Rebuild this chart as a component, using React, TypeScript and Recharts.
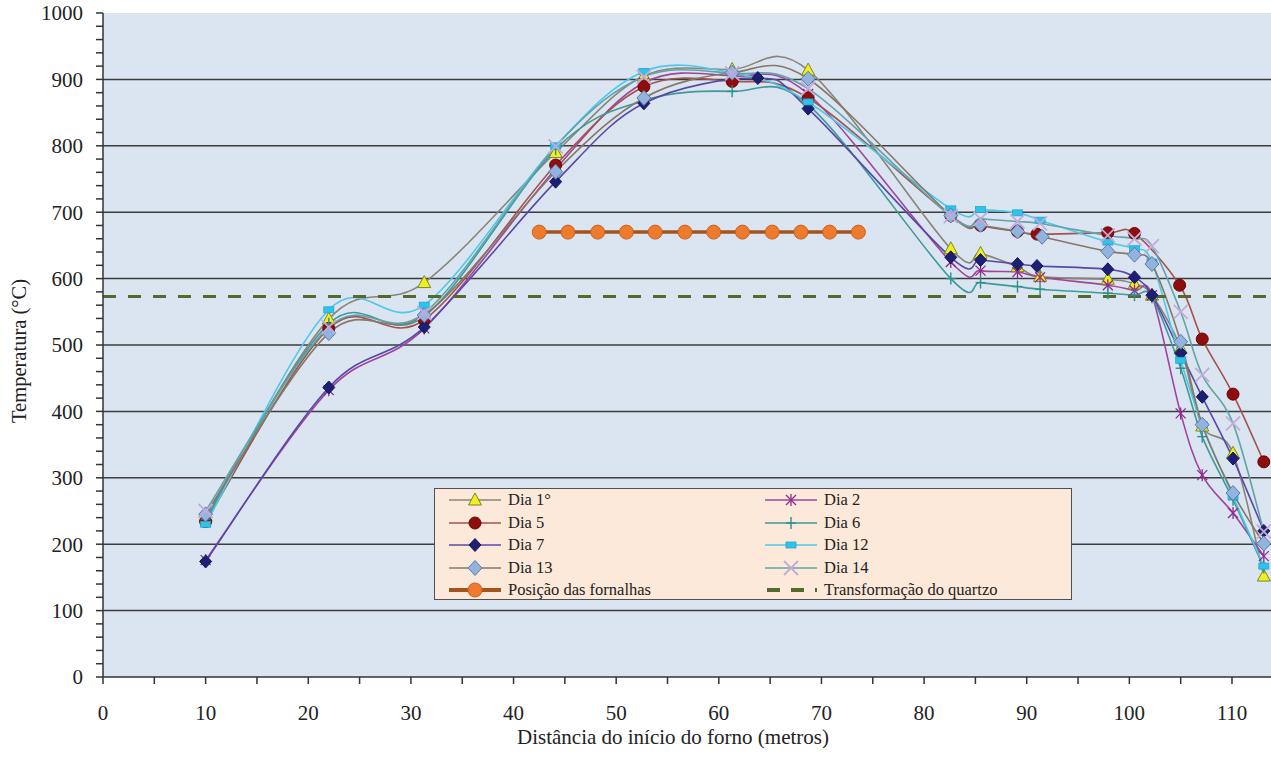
import React from "react";
import { LineChart, Line, XAxis, YAxis, CartesianGrid, Legend } from "recharts";

// ---------- data ----------
const xStd = [10, 22, 31.3, 44.1, 52.7, 61.3, 68.7, 82.6, 85.5, 89.1, 91.3, 97.9, 100.5, 102.2, 105, 107.1, 110.1, 113.1];

const dia1Y = [242, 539, 594, 790, 905, 915, 914, 645, 638, 618, 603, 599, 592, 575, 495, 378, 337, 152];
const dia2Y = [176, 432, 525, 765, 895, 905, 878, 625, 612, 610, 602, 590, 582, 575, 397, 304, 247, 182];

const dia5X = [10, 22, 31.3, 44.1, 52.7, 61.3, 68.7, 82.6, 85.5, 89.1, 91.0, 97.9, 100.5, 104.9, 107.1, 110.1, 113.1];
const dia5Y = [234, 525, 538, 771, 889, 897, 872, 695, 680, 671, 667, 669, 668, 590, 509, 426, 324];

const dia6Y = [238, 532, 543, 795, 868, 882, 862, 600, 594, 588, 584, 578, 575, 572, 465, 362, 267, 165];

const dia7X = [10, 22, 31.3, 44.1, 52.7, 63.8, 68.7, 82.6, 85.5, 89.1, 91.0, 97.9, 100.5, 102.2, 105, 107.1, 110.1, 113.1];
const dia7Y = [174, 436, 527, 746, 864, 902, 856, 632, 628, 622, 619, 614, 602, 575, 488, 422, 329, 220];

const dia12Y = [230, 553, 560, 800, 912, 910, 866, 705, 704, 699, 688, 655, 645, 625, 477, 380, 272, 167];

const dia13X = [10, 22, 31.3, 44.1, 52.7, 61.3, 68.7, 82.6, 85.5, 89.1, 91.5, 97.9, 100.5, 102.2, 105, 107.1, 110.1, 113.1];
const dia13Y = [245, 518, 545, 761, 872, 910, 901, 695, 681, 671, 663, 641, 636, 622, 505, 380, 277, 201];

const dia14Y = [250, 527, 548, 799, 904, 909, 886, 694, 690, 686, 683, 665, 660, 649, 550, 455, 382, 219];

const fornX = [42.5, 45.3, 48.2, 51.0, 53.8, 56.7, 59.5, 62.3, 65.2, 68.0, 70.8, 73.6];
const fornY = [670, 670, 670, 670, 670, 670, 670, 670, 670, 670, 670, 670];

const quartzX = [0, 113.8];
const quartzY = [573, 573];

const xTicks = [0, 5, 10, 15, 20, 25, 30, 35, 40, 45, 50, 55, 60, 65, 70, 75, 80, 85, 90, 95, 100, 105, 110];
const yTicks = Array.from({ length: 51 }, (_, i) => i * 20);
const yGrid = [100, 200, 300, 400, 500, 600, 700, 800, 900];

const zip = (xs: number[], ys: number[]) => xs.map((x, i) => ({ x, y: ys[i] }));

// ---------- Excel-like smoothing curve ----------
const excelCurve: any = (context: any) => {
  let pts: number[][] = [];
  return {
    areaStart() {},
    areaEnd() {},
    lineStart() {
      pts = [];
    },
    point(x: number, y: number) {
      pts.push([+x, +y]);
    },
    lineEnd() {
      const n = pts.length;
      if (!n) return;
      context.moveTo(pts[0][0], pts[0][1]);
      for (let i = 0; i < n - 1; i++) {
        const p0 = pts[Math.max(i - 1, 0)];
        const p1 = pts[i];
        const p2 = pts[i + 1];
        const p3 = pts[Math.min(i + 2, n - 1)];
        context.bezierCurveTo(
          p1[0] + (p2[0] - p0[0]) / 6,
          p1[1] + (p2[1] - p0[1]) / 6,
          p2[0] - (p3[0] - p1[0]) / 6,
          p2[1] - (p3[1] - p1[1]) / 6,
          p2[0],
          p2[1]
        );
      }
    },
  };
};

// ---------- markers ----------
type Kind = "triangle" | "circle" | "diamondDark" | "diamondLight" | "star" | "plus" | "rect" | "x" | "orange" | "none";

function MarkerShape({ kind, cx, cy }: { kind: Kind; cx: number; cy: number }) {
  switch (kind) {
    case "triangle":
      return <polygon points={`${cx},${cy - 7} ${cx - 6.5},${cy + 5} ${cx + 6.5},${cy + 5}`} fill="#f4ee1e" stroke="#6f8a2c" strokeWidth={1} />;
    case "circle":
      return <circle cx={cx} cy={cy} r={6} fill="#8e0d0d" stroke="#6a0808" strokeWidth={1} />;
    case "diamondDark":
      return <polygon points={`${cx},${cy - 6.5} ${cx + 6},${cy} ${cx},${cy + 6.5} ${cx - 6},${cy}`} fill="#1d1f72" stroke="#14165a" strokeWidth={1} />;
    case "diamondLight":
      return <polygon points={`${cx},${cy - 7.5} ${cx + 7},${cy} ${cx},${cy + 7.5} ${cx - 7},${cy}`} fill="#93b3df" stroke="#5b79a8" strokeWidth={1} />;
    case "star":
      return (
        <g stroke="#8e2a8e" strokeWidth={1.3}>
          <line x1={cx} y1={cy - 6} x2={cx} y2={cy + 6} />
          <line x1={cx - 5} y1={cy - 5} x2={cx + 5} y2={cy + 5} />
          <line x1={cx - 5} y1={cy + 5} x2={cx + 5} y2={cy - 5} />
        </g>
      );
    case "plus":
      return (
        <g stroke="#2b8f8c" strokeWidth={1.4}>
          <line x1={cx} y1={cy - 6} x2={cx} y2={cy + 6} />
          <line x1={cx - 5} y1={cy} x2={cx + 5} y2={cy} />
        </g>
      );
    case "rect":
      return <rect x={cx - 5} y={cy - 3} width={10} height={6} fill="#2fc3ea" stroke="#22a8d0" strokeWidth={0.8} />;
    case "x":
      return (
        <g stroke="#c3aad8" strokeWidth={1.8}>
          <line x1={cx - 7} y1={cy - 7} x2={cx + 7} y2={cy + 7} />
          <line x1={cx - 7} y1={cy + 7} x2={cx + 7} y2={cy - 7} />
        </g>
      );
    case "orange":
      return <circle cx={cx} cy={cy} r={7} fill="#ee7b2d" stroke="#c8621e" strokeWidth={1} />;
    default:
      return null;
  }
}

const makeDot = (kind: Kind) => (props: any) => {
  const { cx, cy, index } = props;
  if (cx == null || cy == null) return <g key={`d-${index}`} />;
  return (
    <g key={`d-${kind}-${index}`}>
      <MarkerShape kind={kind} cx={cx} cy={cy} />
    </g>
  );
};

// ---------- series config ----------
const series = [
  { name: "Dia 1°", data: zip(xStd, dia1Y), color: "#8a8474", kind: "triangle" as Kind },
  { name: "Dia 2", data: zip(xStd, dia2Y), color: "#a0449c", kind: "star" as Kind },
  { name: "Dia 5", data: zip(dia5X, dia5Y), color: "#a3534c", kind: "circle" as Kind },
  { name: "Dia 6", data: zip(xStd, dia6Y), color: "#3e9a98", kind: "plus" as Kind },
  { name: "Dia 7", data: zip(dia7X, dia7Y), color: "#5848a8", kind: "diamondDark" as Kind },
  { name: "Dia 12", data: zip(xStd, dia12Y), color: "#4cc8ea", kind: "rect" as Kind },
  { name: "Dia 13", data: zip(dia13X, dia13Y), color: "#867766", kind: "diamondLight" as Kind },
  { name: "Dia 14", data: zip(xStd, dia14Y), color: "#62a3ab", kind: "x" as Kind },
];

const legendRows = [
  ["Dia 1°", "Dia 2"],
  ["Dia 5", "Dia 6"],
  ["Dia 7", "Dia 12"],
  ["Dia 13", "Dia 14"],
  ["Posição das fornalhas", "Transformação do quartzo"],
];

const FONT = "'Liberation Serif', 'Times New Roman', serif";

function LegendSample({ name }: { name: string }) {
  if (name === "Posição das fornalhas") {
    return (
      <svg width={56} height={20}>
        <line x1={2} y1={10} x2={54} y2={10} stroke="#a3531c" strokeWidth={4} />
        <MarkerShape kind="orange" cx={28} cy={10} />
      </svg>
    );
  }
  if (name === "Transformação do quartzo") {
    return (
      <svg width={56} height={20}>
        <line x1={4} y1={10} x2={54} y2={10} stroke="#546a2c" strokeWidth={4} strokeDasharray="13 11" />
      </svg>
    );
  }
  const s = series.find((d) => d.name === name)!;
  return (
    <svg width={56} height={20}>
      <line x1={2} y1={10} x2={54} y2={10} stroke={s.color} strokeWidth={1.6} />
      <MarkerShape kind={s.kind} cx={28} cy={10} />
    </svg>
  );
}

function LegendBox() {
  return (
    <div
      style={{
        width: 638,
        height: 112,
        boxSizing: "border-box",
        background: "#fde9d9",
        border: "1.5px solid #505050",
        position: "relative",
        fontFamily: FONT,
        fontSize: 16.5,
        color: "#222",
      }}
    >
      {legendRows.map((row, r) =>
        row.map((name, c) => (
          <div
            key={name}
            style={{
              position: "absolute",
              left: c === 0 ? 12 : 328,
              top: 1 + r * 22.5,
              height: 20,
              display: "flex",
              alignItems: "center",
              whiteSpace: "nowrap",
            }}
          >
            <LegendSample name={name} />
            <span style={{ marginLeft: 5 }}>{name}</span>
          </div>
        ))
      )}
    </div>
  );
}

const XTick = (props: any) => {
  const { x, y, payload } = props;
  if (payload.value % 10 !== 0) return <g />;
  return (
    <text x={x} y={y} dy="0.71em" textAnchor="middle" fontFamily={FONT} fontSize={21} fill="#222">
      {payload.value}
    </text>
  );
};

const YTick = (props: any) => {
  const { x, y, payload } = props;
  if (payload.value % 100 !== 0) return <g />;
  return (
    <text x={x} y={y} dy="0.35em" textAnchor="end" fontFamily={FONT} fontSize={21} fill="#222">
      {payload.value}
    </text>
  );
};

export default function App() {
  return (
    <div style={{ width: 1271, height: 759, position: "relative" }}>
      <style>{`body{margin:0;}`}</style>
      <LineChart width={1271} height={759} margin={{ top: 13, right: 0, bottom: 0, left: 0 }}>
        <CartesianGrid
          vertical={false}
          horizontalValues={yGrid}
          fill="#dbe5f1"
          fillOpacity={1}
          stroke="#3c3c3c"
          strokeWidth={1.5}
        />
        <XAxis
          dataKey="x"
          type="number"
          domain={[0, 113.8]}
          allowDataOverflow
          ticks={xTicks}
          interval={0}
          height={82}
          tickSize={7}
          tickMargin={21}
          tick={<XTick />}
          stroke="#333"
          strokeWidth={1.5}
          label={{
            content: (p: any) => {
              const vb = p.viewBox || { x: 103, y: 677 };
              return (
                <text x={vb.x + 570} y={vb.y + 67} textAnchor="middle" fontFamily={FONT} fontSize={21} fill="#222">
                  Distância do início do forno (metros)
                </text>
              );
            },
          }}
        />
        <YAxis
          type="number"
          domain={[0, 1000]}
          ticks={yTicks}
          interval={0}
          width={103}
          tickSize={7}
          tickMargin={13}
          tick={<YTick />}
          stroke="#333"
          strokeWidth={1.5}
          label={{
            content: (p: any) => {
              const vb = p.viewBox || { x: 0, y: 13, height: 664 };
              const x = vb.x + 19;
              const y = vb.y + vb.height / 2 + 6;
              return (
                <text
                  x={x}
                  y={y}
                  transform={`rotate(-90 ${x} ${y})`}
                  textAnchor="middle"
                  dominantBaseline="central"
                  fontFamily={FONT}
                  fontSize={20.5}
                  fill="#222"
                >
                  Temperatura (°C)
                </text>
              );
            },
          }}
        />
        {series.map((s) => (
          <Line
            key={s.name}
            data={s.data}
            dataKey="y"
            name={s.name}
            type={excelCurve}
            stroke={s.color}
            strokeWidth={1.6}
            dot={makeDot(s.kind)}
            activeDot={false}
            isAnimationActive={false}
          />
        ))}
        <Line
          data={zip(quartzX, quartzY)}
          dataKey="y"
          name="Transformação do quartzo"
          type="linear"
          stroke="#546a2c"
          strokeWidth={3}
          strokeDasharray="13 12"
          dot={false}
          activeDot={false}
          isAnimationActive={false}
        />
        <Line
          data={zip(fornX, fornY)}
          dataKey="y"
          name="Posição das fornalhas"
          type="linear"
          stroke="#a3531c"
          strokeWidth={3.5}
          dot={makeDot("orange")}
          activeDot={false}
          isAnimationActive={false}
        />
        <Legend
          layout="vertical"
          align="center"
          verticalAlign="middle"
          width={638}
          height={112}
          wrapperStyle={{ position: "absolute", left: 434, top: 488, width: 638, height: 112 }}
          content={() => <LegendBox />}
        />
      </LineChart>
    </div>
  );
}
